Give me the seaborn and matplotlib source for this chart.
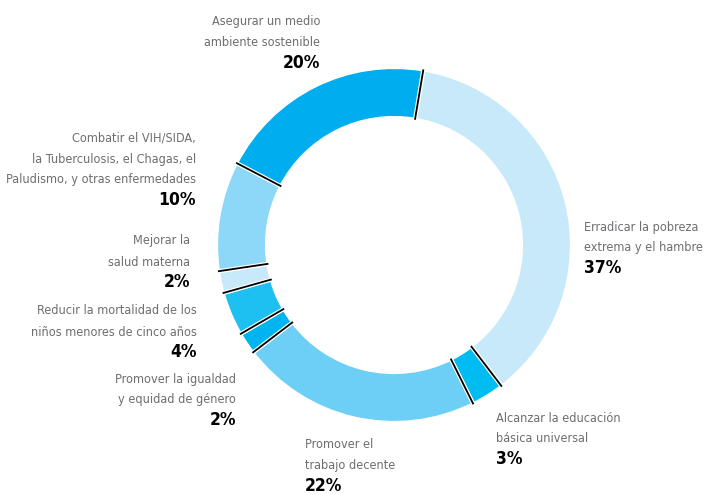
import numpy as np
import matplotlib
matplotlib.use("Agg")
import matplotlib.pyplot as plt
import seaborn as sns

# Objectives and their share (%), clockwise from the top
labels = [
    "Erradicar la pobreza\nextrema y el hambre",
    "Alcanzar la educación\nbásica universal",
    "Promover el\ntrabajo decente",
    "Promover la igualdad\ny equidad de género",
    "Reducir la mortalidad de los\nniños menores de cinco años",
    "Mejorar la\nsalud materna",
    "Combatir el VIH/SIDA,\nla Tuberculosis, el Chagas, el\nPaludismo, y otras enfermedades",
    "Asegurar un medio\nambiente sostenible",
]
shares = [37, 3, 22, 2, 4, 2, 10, 20]
colors = ["#C7E9F9", "#00BCF1", "#6DCFF6", "#00B5EF",
          "#1DC0F0", "#C7E9F9", "#8DD8F8", "#00AEEF"]

sns.set_theme(style="white")
plt.rcParams["font.family"] = ["DejaVu Sans"]
plt.rcParams["font.stretch"] = "condensed"

W, H = 705, 494
fig = plt.figure(figsize=(W / 100, H / 100), dpi=100)
ax = fig.add_axes([0, 0, 1, 1])

cx, cy = 394, H - 245
r_out, r_in = 178, 127
start = 80.5

ax.pie(shares, colors=colors, startangle=start, counterclock=False,
       radius=r_out, center=(cx, cy),
       wedgeprops=dict(width=r_out - r_in, edgecolor="white", linewidth=3))

# thin dark rule inside each white gap between slices
bounds = np.cumsum([0] + shares[:-1])
for b in bounds:
    th = np.deg2rad(start - 360 * b / sum(shares))
    ax.plot([cx + r_in * np.cos(th), cx + r_out * np.cos(th)],
            [cy + r_in * np.sin(th), cy + r_out * np.sin(th)],
            color="black", lw=1.3, solid_capstyle="butt")

ax.set_xlim(0, W)
ax.set_ylim(0, H)
ax.set_aspect("equal")
ax.axis("off")

gray = "#6D6E71"
# (x, y of first line, alignment) per label, in pixels from top-left
places = [
    (584, 227, "left"),
    (496, 418, "left"),
    (305, 445, "left"),
    (236, 379, "right"),
    (197, 311, "right"),
    (190, 241, "right"),
    (196, 138, "right"),
    (320, 22, "right"),
]
line_h = 21
for lab, val, (x, y, ha) in zip(labels, shares, places):
    lines = lab.split("\n")
    for i, ln in enumerate(lines):
        ax.text(x, H - (y + i * line_h), ln, ha=ha, va="center",
                fontsize=9.1, color=gray, fontstretch="condensed")
    ax.text(x, H - (y + len(lines) * line_h - 1), f"{val}%", ha=ha,
            va="center", fontsize=12.5, fontweight="bold", color="black",
            fontstretch="condensed")

fig.savefig("out.png", dpi=100)
